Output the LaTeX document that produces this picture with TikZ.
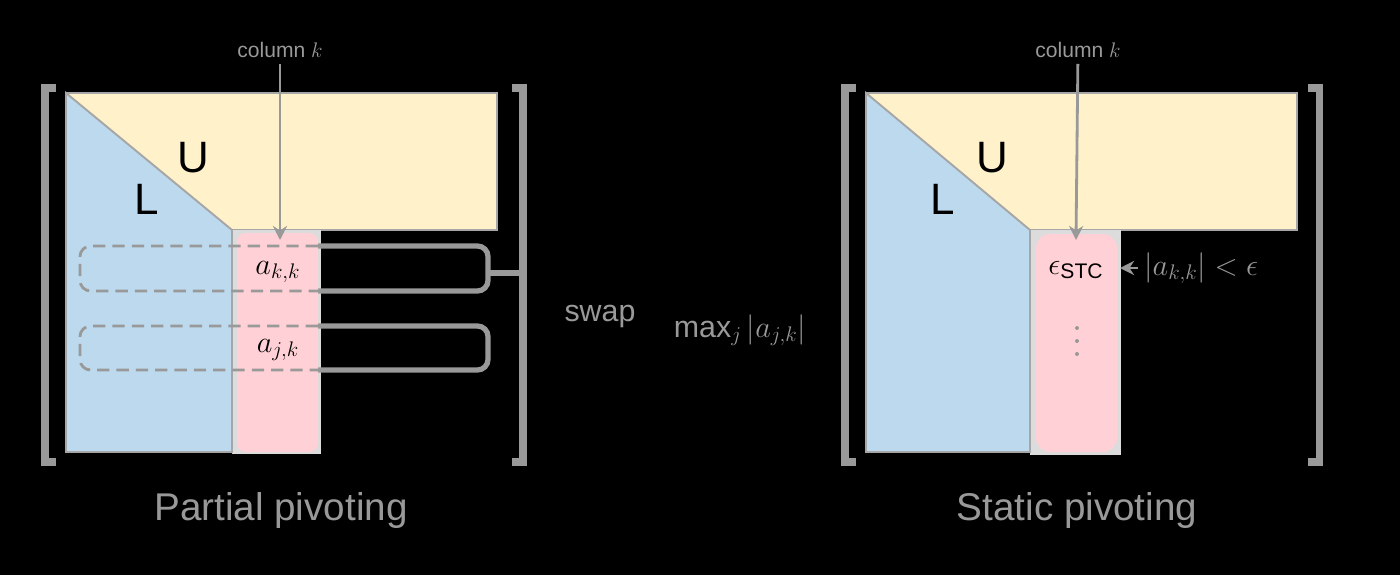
\documentclass[tikz,border=0pt]{standalone}
\usepackage{amsmath}
\usepackage{fontspec}
\setmainfont{Liberation Sans}
\usetikzlibrary{arrows.meta}

\definecolor{lgray}{HTML}{999999}
\definecolor{bgray}{HTML}{A6A6A6}
\definecolor{framegray}{HTML}{DCDCDC}
\definecolor{ucol}{HTML}{FFF1C9}
\definecolor{lcol}{HTML}{BCD9EE}
\definecolor{pivcol}{HTML}{FFD1D6}

\begin{document}
\begin{tikzpicture}[x=0.02cm,y=-0.02cm,>={Stealth[length=8pt,width=8pt]},
  ufill/.style={fill=ucol,draw=bgray,line width=1.1pt},
  lfill/.style={fill=lcol,draw=bgray,line width=1.1pt},
  bracket/.style={draw=lgray,line width=4pt},
  arr/.style={->,draw=lgray,line width=1.6pt},
  rowdash/.style={draw=lgray,line width=1.6pt,dash pattern=on 7pt off 4pt},
  rowline/.style={draw=lgray,line width=3pt},
  blocklab/.style={font=\fontsize{25}{30}\selectfont},
  entry/.style={font=\fontsize{17.28}{20}\selectfont},
  toplab/.style={text=lgray,font=\fontsize{12}{14}\selectfont},
  midlab/.style={text=lgray,font=\fontsize{17.28}{20}\selectfont},
  bottomlab/.style={text=lgray,font=\fontsize{22}{26}\selectfont}]

\fill[black] (0,0) rectangle (1400,575);

% partial pivoting
\draw[bracket] (56,88) -- (45,88) -- (45,462) -- (56,462);
\draw[bracket] (512,88) -- (523,88) -- (523,462) -- (512,462);

\filldraw[ufill] (66,93) rectangle (497,230);
\fill[framegray] (232,230) rectangle (321,454);
\fill[pivcol,rounded corners=5pt] (237,233) rectangle (318,452);
\filldraw[lfill] (66,93) -- (232,230) -- (232,452) -- (66,452) -- cycle;

\node[blocklab] (UL) at (193,158) {U};
\node[blocklab] (LL) at (147,199) {L};

\draw[rowdash,rounded corners=6pt] (318,246) -- (80,246) -- (80,291) -- (318,291);
\draw[rowline,rounded corners=6pt] (318,246) -- (488,246) -- (488,291) -- (318,291);
\draw[rowdash,rounded corners=6pt] (318,326) -- (80,326) -- (80,370) -- (318,370);
\draw[rowline,rounded corners=6pt] (318,326) -- (488,326) -- (488,370) -- (318,370);

\node[entry] (akk) at (278,272) {$a_{k,k}$};
\node[entry] (ajk) at (278,350) {$a_{j,k}$};

\coordinate (rowk) at (488,273);
\coordinate (brkL) at (521,273);
\draw[rowline] (rowk) -- (brkL);

\node[toplab] (colkL) at (280,50) {column $k$};
\coordinate (pivtopL) at (280,240);
\draw[arr] (colkL) -- (pivtopL);

\node[bottomlab] (partial) at (281,510) {Partial pivoting};

% between the panels
\node[midlab] (swap) at (600,316) {swap};
\node[midlab] (maxj) at (740,330) {$\max_j |a_{j,k}|$};

% static pivoting
\draw[bracket] (856,88) -- (845,88) -- (845,462) -- (856,462);
\draw[bracket] (1308,88) -- (1319,88) -- (1319,462) -- (1308,462);

\filldraw[ufill] (866,93) rectangle (1297,230);
\fill[framegray] (1030,230) rectangle (1121,455);
\fill[pivcol,rounded corners=8pt] (1036,234) rectangle (1117,452);
\filldraw[lfill] (866,93) -- (1030,230) -- (1030,452) -- (866,452) -- cycle;

\node[blocklab] (UR) at (992,158) {U};
\node[blocklab] (LR) at (943,199) {L};

\node[entry] (estc) at (1076,270) {$\epsilon_{\text{STC}}$};
\foreach \y in {328,341,354}
  \fill[lgray] (1077,\y) circle (2);

\node[toplab] (colkR) at (1078,50) {column $k$};
\coordinate (pivtopR) at (1076,240);
\draw[arr] (colkR) -- (pivtopR);

\node[entry,text=lgray,anchor=west] (cond) at (1138,268) {$|a_{k,k}|<\epsilon$};
\coordinate (pivR) at (1120,268);
\draw[arr] (cond) -- (pivR);

\node[bottomlab] (static) at (1077,510) {Static pivoting};

\end{tikzpicture}
\end{document}
